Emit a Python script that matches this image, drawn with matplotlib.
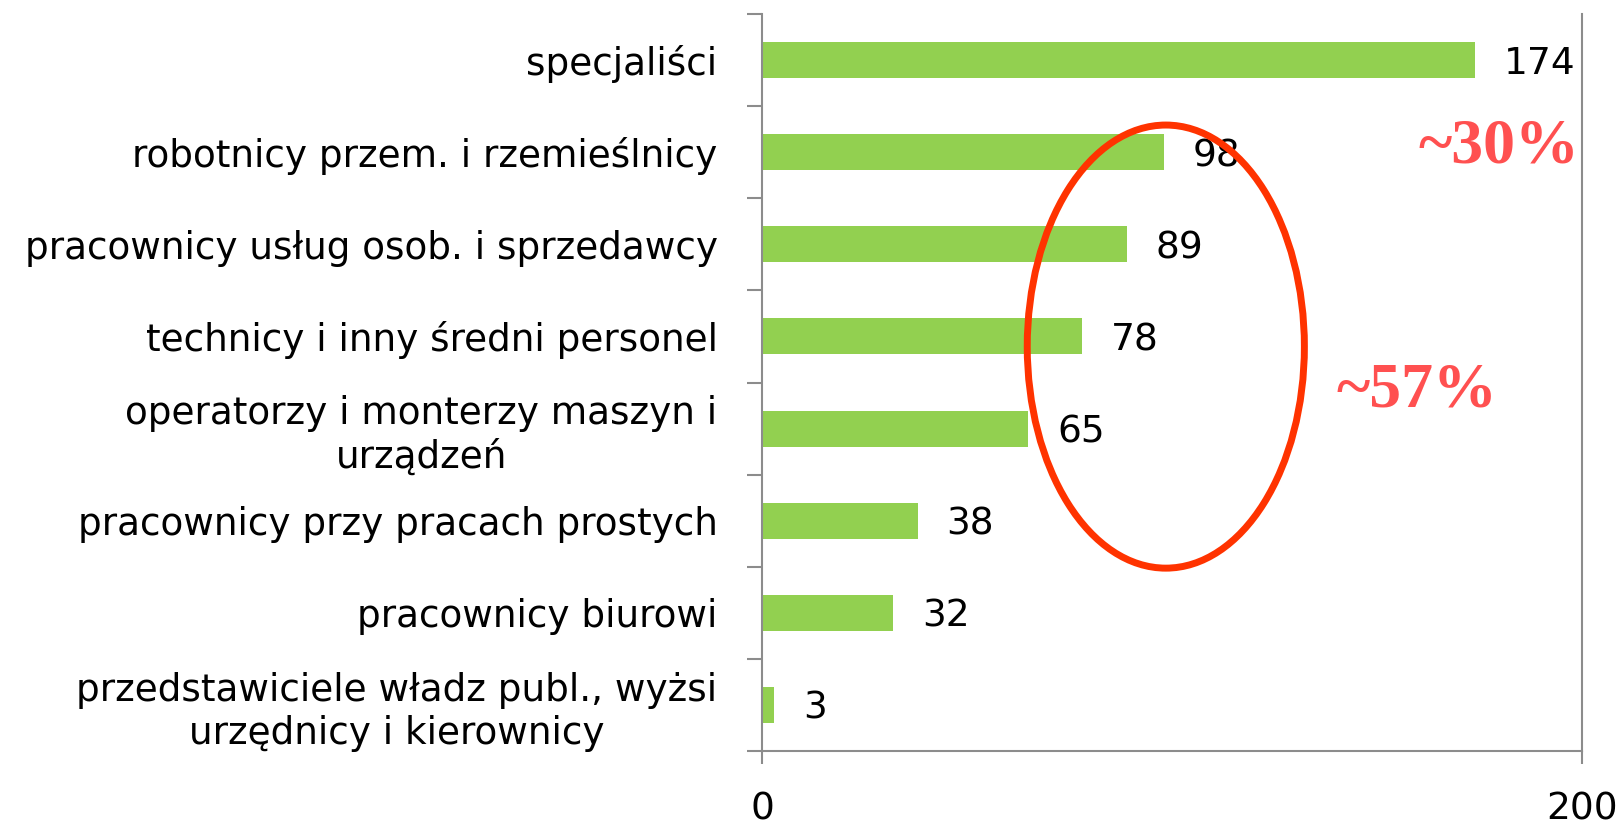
import numpy as np
import matplotlib
matplotlib.use('Agg')
import matplotlib.pyplot as plt
from matplotlib.patches import Ellipse

# Data
categories = [
    'specjaliści',
    'robotnicy przem. i rzemieślnicy',
    'pracownicy usług osob. i sprzedawcy',
    'technicy i inny średni personel',
    'operatorzy i monterzy maszyn i\nurządzeń',
    'pracownicy przy pracach prostych',
    'pracownicy biurowi',
    'przedstawiciele władz publ., wyżsi\nurzędnicy i kierownicy',
]
values = [174, 98, 89, 78, 65, 38, 32, 3]
x_ticks = [0, 200]

bar_color = '#92D050'
axis_gray = '#8c8c8c'

fig = plt.figure(figsize=(16.23, 8.26), dpi=100)
ax = fig.add_axes([0.4695, 0.0908, 0.5052, 0.8922])

pos = np.arange(len(categories))
ax.barh(pos, values, height=0.39, color=bar_color, zorder=2)

ax.set_xlim(0, 200)
ax.set_ylim(len(categories) - 0.5, -0.5)

# value labels
for p, v in zip(pos, values):
    ax.text(v + 7, p, str(v), ha='left', va='center_baseline', fontsize=27,
            family='DejaVu Sans', color='black', zorder=3)

# category labels at centres, boundary ticks as minor ticks
ax.set_yticks(pos)
ax.set_yticklabels(categories, fontsize=26.9, family='DejaVu Sans',
                   multialignment='center')
ax.tick_params(axis='y', which='major', length=0, pad=32)
ax.set_yticks(np.arange(-0.5, len(categories)), minor=True)
ax.tick_params(axis='y', which='minor', length=11, width=1.5,
               color=axis_gray, direction='out')

ax.set_xticks(x_ticks)
ax.set_xticklabels([str(t) for t in x_ticks], fontsize=27, family='DejaVu Sans')
ax.tick_params(axis='x', length=9, width=1.5, color=axis_gray,
               direction='out', pad=20)

ax.spines['top'].set_visible(False)
for s in ['left', 'right', 'bottom']:
    ax.spines[s].set_color(axis_gray)
    ax.spines[s].set_linewidth(1.5)

# highlight ellipse and annotations
ell = Ellipse((98.5, 3.11), width=67.6, height=4.81, fill=False,
              edgecolor='#FF3300', linewidth=5, zorder=4, clip_on=False)
ax.add_patch(ell)

ax.text(199.3, 0.95, '~30%', ha='right', va='center', fontsize=46,
        family='Liberation Serif', fontweight='bold', color='#FF5050', zorder=5)
ax.text(179.3, 3.6, '~57%', ha='right', va='center', fontsize=46,
        family='Liberation Serif', fontweight='bold', color='#FF5050', zorder=5)

fig.savefig('out.png', dpi=100)
